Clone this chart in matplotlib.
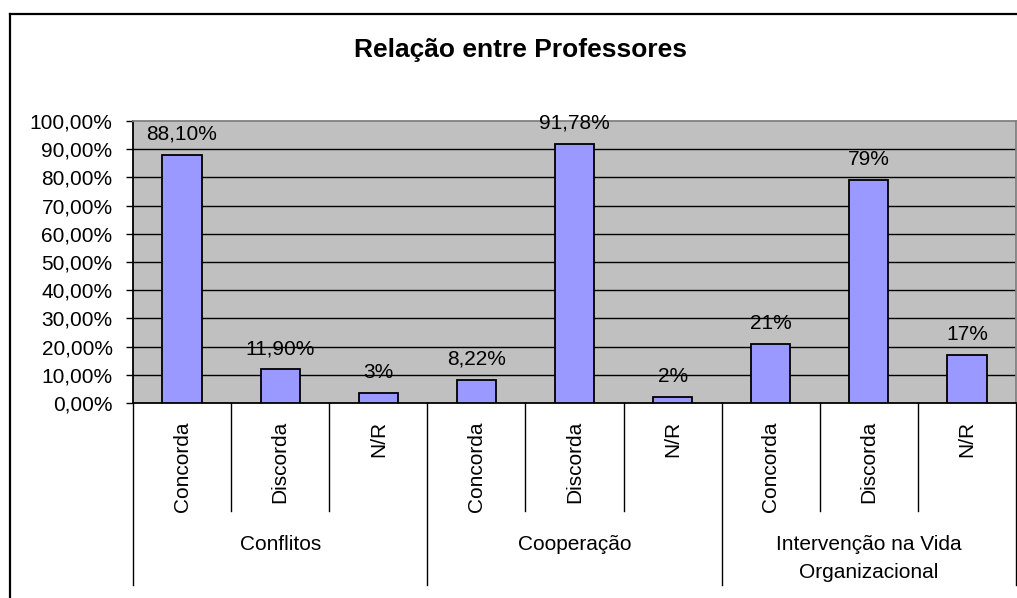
import matplotlib
matplotlib.use("Agg")
import matplotlib.pyplot as plt
from matplotlib.lines import Line2D
from matplotlib.transforms import blended_transform_factory

plt.rcParams['font.family'] = ['Liberation Sans', 'DejaVu Sans']

# ---- data ----
groups = ["Conflitos", "Cooperação", "Intervenção na Vida\nOrganizacional"]
categories = ["Concorda", "Discorda", "N/R"]
values = [88.10, 11.90, 3.4, 8.22, 91.78, 2.2, 21.0, 79.0, 17.0]
value_labels = ["88,10%", "11,90%", "3%", "8,22%", "91,78%", "2%", "21%", "79%", "17%"]
yticks = [0, 10, 20, 30, 40, 50, 60, 70, 80, 90, 100]
ytick_labels = ["0,00%", "10,00%", "20,00%", "30,00%", "40,00%", "50,00%",
                "60,00%", "70,00%", "80,00%", "90,00%", "100,00%"]
title = "Relação entre Professores"

W, H = 1017, 598
fig = plt.figure(figsize=(W / 100, H / 100), dpi=100)
fig.patch.set_facecolor("white")

def fy(py):
    return 1 - py / H

def fx(px):
    return px / W

ax_left, ax_right, ax_top, ax_bot = 133, 1016, 121, 403
ax = fig.add_axes([fx(ax_left), fy(ax_bot), fx(ax_right) - fx(ax_left), fy(ax_top) - fy(ax_bot)])
ax.set_facecolor("#C0C0C0")

n = len(values)
xs = list(range(n))
ax.bar(xs, values, width=0.4, color="#9999FF", edgecolor="black", linewidth=1.3, zorder=3)
ax.set_xlim(-0.5, n - 0.5)
ax.set_ylim(0, 100)

for y in yticks[1:-1]:
    ax.axhline(y, color="black", linewidth=1.0, zorder=1)

ax.set_yticks(yticks)
ax.set_yticklabels(ytick_labels, fontsize=15)
ax.tick_params(axis="y", length=5, width=1, pad=9.7, color="black")
ax.set_xticks([])

for s in ["top", "right"]:
    ax.spines[s].set_color("#808080")
    ax.spines[s].set_linewidth(1.3)
for s in ["left", "bottom"]:
    ax.spines[s].set_color("black")
    ax.spines[s].set_linewidth(1.3)

# value labels
for x, v, lab in zip(xs, values, value_labels):
    ax.annotate(lab, (x, v), xytext=(0, 11), textcoords="offset points",
                ha="center", va="baseline", fontsize=15, zorder=4)

# category axis below
tr = blended_transform_factory(ax.transData, fig.transFigure)
for i, x in enumerate(xs):
    ax.text(x, fy(421), categories[i % len(categories)], transform=tr, rotation=90,
            ha="center", va="top", fontsize=15, clip_on=False)

# separators
for b in range(n + 1):
    xb = b - 0.5
    if b % len(categories) == 0:
        y_end = 585
    else:
        y_end = 511
    ax.add_line(Line2D([xb, xb], [fy(ax_bot), fy(y_end)], transform=tr,
                       color="black", linewidth=1.0, clip_on=False))

# group labels
for g, name in enumerate(groups):
    xc = g * len(categories) + (len(categories) - 1) / 2
    for k, line in enumerate(name.split("\n")):
        ax.text(xc, fy(550 + 28 * k), line, transform=tr, ha="center",
                va="baseline", fontsize=15, clip_on=False)

# title
fig.text(fx(521), fy(57), title, ha="center", va="baseline", fontsize=19, fontweight="bold")

# outer chart border
fig.add_artist(Line2D([fx(9.5), fx(9.5)], [fy(13.5), fy(600)], color="black", linewidth=1.6,
                      transform=fig.transFigure))
fig.add_artist(Line2D([fx(9.5), fx(1020)], [fy(13.5), fy(13.5)], color="black", linewidth=1.6,
                      transform=fig.transFigure))

fig.savefig("out.png", dpi=100)
